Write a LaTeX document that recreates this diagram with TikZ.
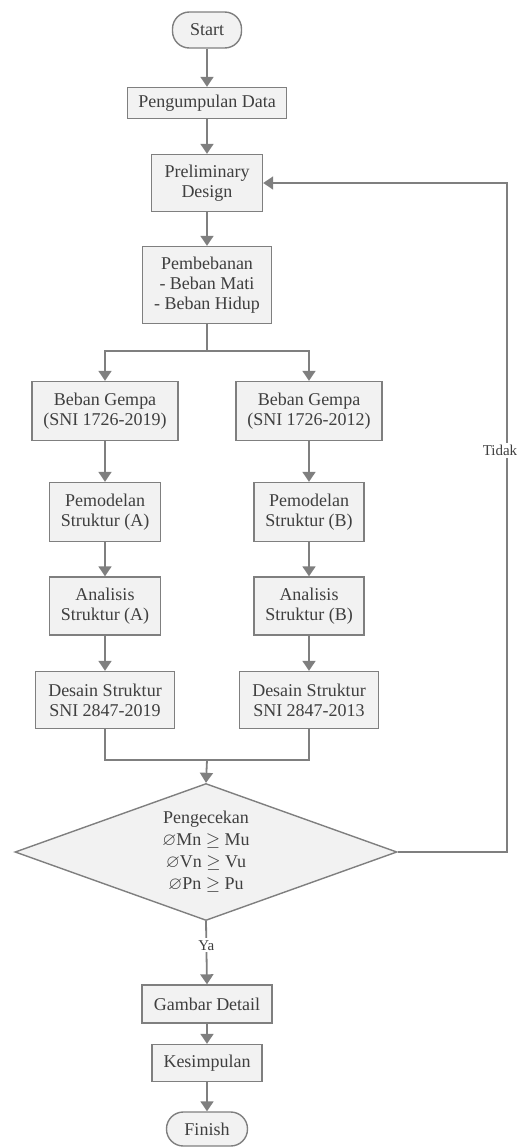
\documentclass[tikz,border=0pt]{standalone}
\usepackage{fontspec}
\usepackage{amssymb}
\setmainfont{Liberation Serif}
\usetikzlibrary{shapes.geometric,arrows.meta}
\definecolor{garisabu}{HTML}{7F7F7F}
\definecolor{isiabu}{HTML}{F2F2F2}
\definecolor{teks}{HTML}{3F3F3F}

\begin{document}
\begin{tikzpicture}[x=0.5pt,y=-0.5pt,
	every node/.style={text=teks,font=\fontsize{9}{10}\selectfont,align=center,inner sep=0pt},
	kotak/.style={draw=garisabu,fill=isiabu,line width=0.7pt},
	ujung/.style={kotak,rounded corners=8.4pt},
	belah/.style={kotak,diamond,shape aspect=2.8},
	panah/.style={draw=garisabu,line width=0.9pt,-{Triangle[width=6.5pt,length=5pt]}},
	garis/.style={draw=garisabu,line width=0.9pt},
	ket/.style={fill=white,font=\fontsize{7.5}{8}\selectfont,inner sep=1pt}]

\useasboundingbox (0,0) rectangle (520,1148);

% jalur utama
\node[ujung,minimum width=34.5pt,minimum height=18pt] (start) at (207,30) {Start};
\node[kotak,minimum width=79.5pt,minimum height=15.5pt] (data) at (207,103) {Pengumpulan Data};
\node[kotak,minimum width=55.5pt,minimum height=28.5pt] (prelim) at (207,183) {Preliminary\\Design};
\node[kotak,minimum width=64.5pt,minimum height=38.5pt] (beban) at (207,285) {Pembebanan\\- Beban Mati\\- Beban Hidup};

% cabang kiri dan kanan
\node[kotak,minimum width=73pt,minimum height=29.5pt] (gempaA) at (105,411) {Beban Gempa\\(SNI 1726-2019)};
\node[kotak,minimum width=73pt,minimum height=29.5pt] (gempaB) at (309,411) {Beban Gempa\\(SNI 1726-2012)};
\node[kotak,minimum width=55.5pt,minimum height=29.5pt] (modelA) at (105,512) {Pemodelan\\Struktur (A)};
\node[kotak,minimum width=55pt,minimum height=29.5pt] (modelB) at (309,512) {Pemodelan\\Struktur (B)};
\node[kotak,minimum width=55.5pt,minimum height=29pt] (analA) at (105,606) {Analisis\\Struktur (A)};
\node[kotak,minimum width=55pt,minimum height=29pt] (analB) at (309,606) {Analisis\\Struktur (B)};
\node[kotak,minimum width=69.5pt,minimum height=28.5pt] (desainA) at (105,700) {Desain Struktur\\SNI 2847-2019};
\node[kotak,minimum width=69.5pt,minimum height=28.5pt] (desainB) at (309,700) {Desain Struktur\\SNI 2847-2013};

% pengecekan
\node[belah,minimum width=191pt,minimum height=68.5pt] (cek) at (206,852) {Pengecekan\\[1pt]$\varnothing$Mn $\geq$ Mu\\[1pt]$\varnothing$Vn $\geq$ Vu\\[1pt]$\varnothing$Pn $\geq$ Pu};

\node[kotak,minimum width=65pt,minimum height=19pt] (gambar) at (207,1004) {Gambar Detail};
\node[kotak,minimum width=55pt,minimum height=18.5pt] (simpul) at (207,1063) {Kesimpulan};
\node[ujung,minimum width=40.5pt,minimum height=17pt] (finish) at (207,1129) {Finish};

\coordinate (bagi) at (207,351);
\coordinate (gabung) at (207,760);
\coordinate (kanan) at (507,852);
\coordinate (atas) at (507,183);

\foreach \a/\b in {start/data,data/prelim,prelim/beban,gempaA/modelA,modelA/analA,analA/desainA,gempaB/modelB,modelB/analB,analB/desainB,gambar/simpul,simpul/finish}
	\draw[panah] (\a) -- (\b);

\draw[garis] (beban.south) -- (bagi);
\draw[panah] (bagi) -| (gempaA.north);
\draw[panah] (bagi) -| (gempaB.north);

\draw[garis] (desainA.south) |- (gabung);
\draw[garis] (desainB.south) |- (gabung);
\draw[panah] (gabung) -- (cek.north);

\draw[panah] (cek.south) -- node[ket,pos=0.38] {Ya} (gambar.north);
\draw[panah] (cek.east) -- (kanan) -- node[ket,pos=0.6,xshift=-3.5pt] {Tidak} (atas) -- (prelim.east);

\end{tikzpicture}
\end{document}
